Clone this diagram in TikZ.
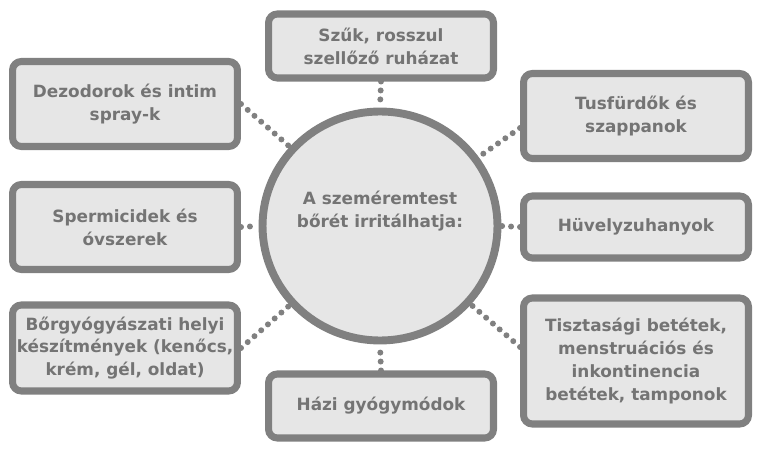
\documentclass[tikz,border=0pt]{standalone}
\usepackage{fontspec}
\setmainfont{DejaVu Sans}
\usetikzlibrary{shapes.geometric}
\definecolor{rim}{HTML}{808080}
\definecolor{paper}{HTML}{E6E6E6}
\definecolor{ink}{HTML}{747474}
\tikzset{
  cause/.style={
    draw=rim,
    fill=paper,
    line width=4pt,
    rounded corners=5pt,
    text=ink,
    minimum width=4.5cm,
    inner sep=1pt,
    align=center,
    font=\bfseries\fontsize{9.6}{13}\selectfont
  },
  hub/.style={
    ellipse,
    draw=rim,
    fill=paper,
    line width=4.5pt,
    text=ink,
    minimum width=4.36cm,
    minimum height=4.58cm,
    inner sep=0pt,
    align=center,
    font=\bfseries\fontsize{9.6}{13}\selectfont
  },
  dotlink/.style={
    draw=rim,
    line width=3.4pt,
    line cap=round,
    dash pattern=on 0pt off 5.1pt
  }
}
\newcommand{\causebox}[4]{%
  \node[cause, minimum height=#3] (#1) at (#2) {#4};
}

\begin{document}
\begin{tikzpicture}[x=0.02cm,y=-0.02cm]
  \useasboundingbox (0,0) rectangle (766,462);

  % --- centre ---
  \node[hub] (skin) at (380,226) {A szeméremtest\\bőrét irritálhatja:\\[6pt]};

  % --- left column ---
  \causebox{deo}{125,104}{1.7cm}{Dezodorok és intim\\spray-k}
  \causebox{sperm}{125,227}{1.7cm}{Spermicidek és\\óvszerek}
  \causebox{derm}{125,348}{1.72cm}{Bőrgyógyászati helyi\\készítmények (kenőcs,\\krém, gél, oldat)}

  % --- middle column ---
  \causebox{cloth}{381,46}{1.28cm}{Szűk, rosszul\\szellőző ruházat}
  \causebox{home}{381,406}{1.28cm}{Házi gyógymódok}

  % --- right column ---
  \causebox{soap}{636,116}{1.7cm}{Tusfürdők és\\szappanok}
  \causebox{douche}{636,227}{1.24cm}{Hüvelyzuhanyok}
  \causebox{pads}{636,361}{2.52cm}{Tisztasági betétek,\\menstruációs és\\inkontinencia\\betétek, tamponok}

  % --- dotted links ---
  \draw[dotlink] (cloth.south) -- (skin.north);
  \draw[dotlink] (home.north) -- (skin.south);
  \draw[dotlink] (sperm.east) -- (skin.west);
  \draw[dotlink] (douche.west) -- (skin.east);
  \draw[dotlink] (deo.east) -- (skin);
  \draw[dotlink] (derm.east) -- (skin);
  \draw[dotlink] ([yshift=-0.24cm]soap.west) -- (skin);
  \draw[dotlink] ([yshift=0.28cm]pads.west) -- (skin);

\end{tikzpicture}
\end{document}
